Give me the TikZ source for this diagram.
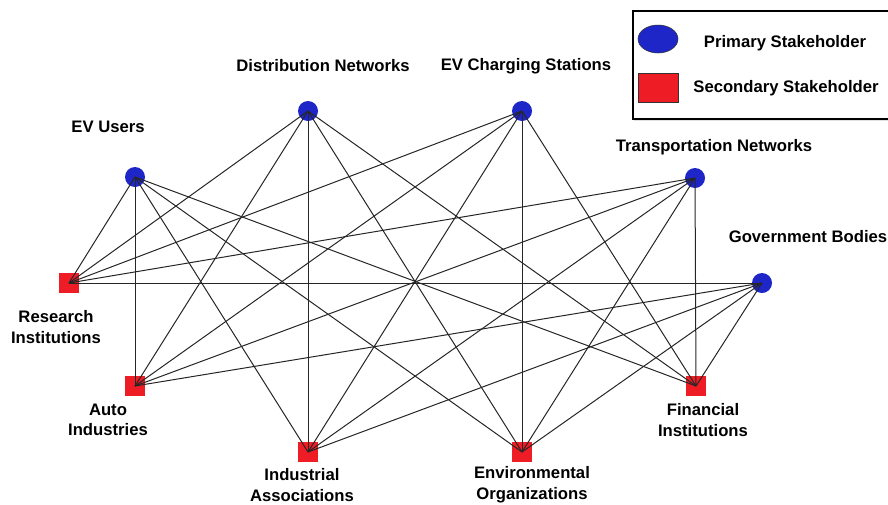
\documentclass[tikz,border=0pt]{standalone}
\usepackage{fontspec}
\setmainfont{Liberation Sans}
\usetikzlibrary{positioning,shapes.geometric}

\definecolor{primblue}{RGB}{30,38,200}
\definecolor{secred}{RGB}{238,28,36}

\begin{document}
\begin{tikzpicture}[x=0.75pt,y=-0.75pt,
    primary/.style={circle,fill=primblue,minimum size=15pt,inner sep=0pt},
    secondary/.style={rectangle,fill=secred,minimum size=15.5pt,inner sep=0pt},
    lbl/.style={font=\fontsize{12.5}{15.5}\selectfont\bfseries,align=center,inner sep=0pt}]
            \useasboundingbox (0,0) rectangle (888,504);
            % primary stakeholders
            \node[primary]   (users)   at (135,177) {};
            \node[primary]   (distr)   at (308,111) {};
            \node[primary]   (charge)  at (522,111) {};
            \node[primary]   (transp)  at (695,178) {};
            \node[primary]   (gov)     at (762,283) {};
            % secondary stakeholders
            \node[secondary] (research) at (69,283)  {};
            \node[secondary] (auto)     at (135,386) {};
            \node[secondary] (indus)    at (308,452) {};
            \node[secondary] (enviro)   at (522,452) {};
            \node[secondary] (finance)  at (696,386) {};
            % labels
            \node[lbl] (usersL)    at (108,127) {EV Users};
            \node[lbl] (distrL)    at (323,66)  {Distribution Networks};
            \node[lbl] (chargeL)   at (526,66)  {EV Charging Stations};
            \node[lbl] (transpL)   at (714,147) {Transportation Networks};
            \node[lbl] (govL)      at (808,237) {Government Bodies};
            \node[lbl] (researchL) at (56,327)  {Research\\Institutions};
            \node[lbl] (autoL)     at (108,420) {Auto\\Industries};
            \node[lbl] (indusL)    at (302,485) {Industrial\\Associations};
            \node[lbl] (enviroL)   at (532,485) {Environmental\\Organizations};
            \node[lbl] (financeL)  at (703,420) {Financial\\Institutions};
            \tikzset{link/.style={draw=black!85,line width=0.75pt}}
            \path (research.center) edge [link] (users.center);
            \path (research.center) edge [link] (distr.center);
            \path (research.center) edge [link] (charge.center);
            \path (research.center) edge [link] (transp.center);
            \path (research.center) edge [link] (gov.center);
            \path (auto.center)     edge [link] (users.center);
            \path (auto.center)     edge [link] (distr.center);
            \path (auto.center)     edge [link] (charge.center);
            \path (auto.center)     edge [link] (transp.center);
            \path (auto.center)     edge [link] (gov.center);
            \path (indus.center)    edge [link] (users.center);
            \path (indus.center)    edge [link] (distr.center);
            \path (indus.center)    edge [link] (charge.center);
            \path (indus.center)    edge [link] (transp.center);
            \path (indus.center)    edge [link] (gov.center);
            \path (enviro.center)   edge [link] (users.center);
            \path (enviro.center)   edge [link] (distr.center);
            \path (enviro.center)   edge [link] (charge.center);
            \path (enviro.center)   edge [link] (transp.center);
            \path (enviro.center)   edge [link] (gov.center);
            \path (finance.center)  edge [link] (users.center);
            \path (finance.center)  edge [link] (distr.center);
            \path (finance.center)  edge [link] (charge.center);
            \path (finance.center)  edge [link] (transp.center);
            \path (finance.center)  edge [link] (gov.center);
            % legend
            \fill[black!12] (634,118) rectangle (892,121);
            \node[draw,line width=1.5pt,minimum width=262pt,minimum height=81pt,inner sep=0pt,anchor=north west] (legend) at (632,10) {};
            \node[ellipse,draw=black!80,fill=primblue,minimum width=30pt,minimum height=21pt,inner sep=0pt] (legP) at (658,39) {};
            \node[draw=black!80,fill=secred,minimum width=30pt,minimum height=22pt,inner sep=0pt] (legS) at (658,88) {};
            \node[lbl] (legPL) at (785,43) {Primary Stakeholder};
            \node[lbl] (legSL) at (786,88) {Secondary Stakeholder};
        \end{tikzpicture}
\end{document}
